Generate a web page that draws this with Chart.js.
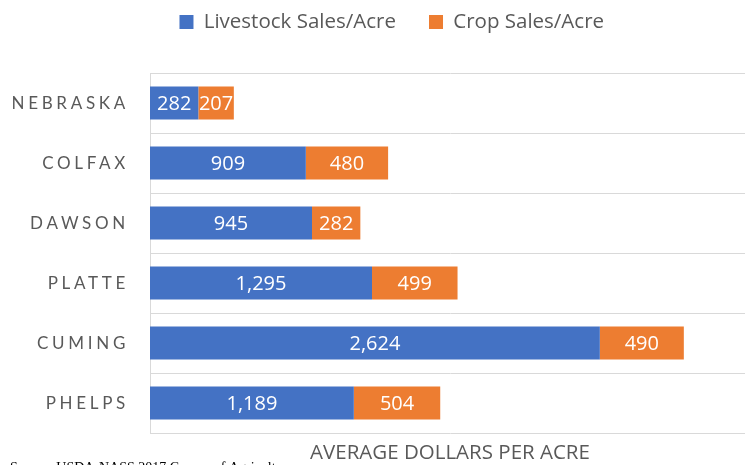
<!DOCTYPE html>
<html>
<head>
<meta charset="utf-8">
<script src="https://cdn.jsdelivr.net/npm/chart.js@4/dist/chart.umd.min.js"></script>
<style>
  html, body { margin: 0; padding: 0; background: #fff; overflow: hidden; width: 745px; height: 465px; }
  #wrap { position: relative; width: 760px; height: 465px; }
  canvas { display: block; }
</style>
</head>
<body>
<div id="wrap"><canvas id="c" width="760" height="465"></canvas></div>
<script>
const categories = ["NEBRASKA", "COLFAX", "DAWSON", "PLATTE", "CUMING", "PHELPS"];
const livestockSales = [282, 909, 945, 1295, 2624, 1189];
const cropSales = [207, 480, 282, 499, 490, 504];
const seriesNames = ["Livestock Sales/Acre", "Crop Sales/Acre"];
const axisTitle = "AVERAGE DOLLARS PER ACRE";
const sourceNote = "Source: USDA-NASS 2017 Census of Agriculture";

const GREY = "#595959";
const BLUE = "#4472C4";
const ORANGE = "#ED7D31";
const GRID = "#d9d9d9";

const spacedLabels = {
  id: "spacedLabels",
  afterDraw(chart) {
    const ctx = chart.ctx;
    const y = chart.scales.y;
    const spacing = 3.7;
    ctx.save();
    ctx.font = "17px Lato";
    ctx.fillStyle = GREY;
    ctx.textAlign = "right";
    ctx.textBaseline = "middle";
    ctx.letterSpacing = spacing + "px";
    categories.forEach((lab, i) => {
      ctx.fillText(lab, 129, y.getPixelForValue(i) + 1);
    });
    ctx.restore();
  }
};

const valueLabels = {
  id: "valueLabels",
  afterDatasetsDraw(chart) {
    const ctx = chart.ctx;
    ctx.save();
    ctx.font = "20px 'Open Sans'";
    ctx.fillStyle = "#ffffff";
    ctx.textAlign = "center";
    ctx.textBaseline = "middle";
    chart.data.datasets.forEach((ds, di) => {
      const meta = chart.getDatasetMeta(di);
      meta.data.forEach((el, i) => {
        const p = el.getProps(["x", "y", "base"], true);
        const cx = (p.x + p.base) / 2;
        ctx.fillText(ds.data[i].toLocaleString("en-US"), cx, p.y + 1);
      });
    });
    ctx.restore();
  }
};

const sourceText = {
  id: "sourceText",
  afterDraw(chart) {
    const ctx = chart.ctx;
    ctx.save();
    ctx.font = "14px 'Liberation Serif'";
    ctx.fillStyle = "#000000";
    ctx.textAlign = "left";
    ctx.textBaseline = "alphabetic";
    ctx.fillText(sourceNote, 10, 472);
    ctx.restore();
  }
};

new Chart(document.getElementById("c"), {
  type: "bar",
  data: {
    labels: categories,
    datasets: [
      { label: seriesNames[0], data: livestockSales, backgroundColor: BLUE, borderWidth: 0,
        barPercentage: 0.55, categoryPercentage: 1.0 },
      { label: seriesNames[1], data: cropSales, backgroundColor: ORANGE, borderWidth: 0,
        barPercentage: 0.55, categoryPercentage: 1.0 }
    ]
  },
  options: {
    indexAxis: "y",
    responsive: false,
    animation: false,
    layout: { padding: { left: 33.5, right: 10, top: 0, bottom: 0 } },
    plugins: {
      legend: {
        position: "top",
        weight: 3000,
        labels: {
          boxWidth: 14, boxHeight: 14, padding: 11.75,
          color: GREY,
          font: { family: "Open Sans", size: 20.5 },
          generateLabels(chart) {
            const items = Chart.defaults.plugins.legend.labels.generateLabels(chart);
            items[0].text = items[0].text + "    ";
            return items;
          }
        }
      },
      title: {
        display: true,
        text: " ",
        weight: 500,
        font: { size: 10, lineHeight: 1.2 },
        padding: { top: 8.75, bottom: 10 }
      },
      tooltip: { enabled: false }
    },
    scales: {
      x: {
        stacked: true,
        min: 0, max: 3500,
        ticks: { display: false },
        grid: { display: false, drawTicks: false },
        border: { display: false },
        title: {
          display: true, text: axisTitle, color: GREY,
          font: { family: "Open Sans", size: 20.5, lineHeight: 1.2 },
          padding: { top: 7.4, bottom: 0 }
        }
      },
      y: {
        stacked: true,
        ticks: { display: false },
        grid: { color: GRID, lineWidth: 1, offset: true, drawTicks: false },
        border: { display: true, color: GRID, width: 1 },
        afterFit(scale) { scale.width = 116.5; }
      }
    }
  },
  plugins: [spacedLabels, valueLabels, sourceText]
});
</script>
</body>
</html>
